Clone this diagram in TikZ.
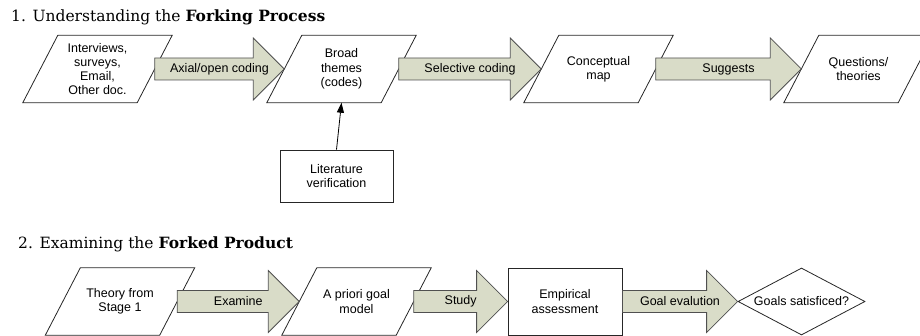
\documentclass[tikz,border=0pt]{standalone}
\usepackage{fontspec}
\setmainfont{Liberation Sans}
\newfontfamily\headfont{DejaVu Serif}
\usetikzlibrary{calc,shapes.geometric,arrows.meta}

\definecolor{shaftfill}{HTML}{D9DCC8}
\definecolor{shaftline}{HTML}{505050}

\tikzset{
  frame/.style={draw=black!85,line width=0.8pt},
  box/.style={align=center,inner sep=0pt,font=\fontsize{12.5}{14.3}\selectfont},
  para/.style={box,minimum width=114pt,minimum height=67pt,
    append after command={\pgfextra{\draw[frame]
      ($(\tikzlastnode.south west)+(-17.5pt,0)$) -- ($(\tikzlastnode.north west)+(17.5pt,0)$)
      -- ($(\tikzlastnode.north east)+(17.5pt,0)$) -- ($(\tikzlastnode.south east)+(-17.5pt,0)$)
      -- cycle;}}},
  rect/.style={box,frame,fill=white,rectangle,minimum width=114pt,minimum height=67pt},
  shaft/.style={draw=shaftline,line width=0.8pt,fill=shaftfill},
  head/.style={anchor=base west,inner sep=0pt,font=\headfont\fontsize{15.5}{18}\selectfont}
}

% #1 label name, #2 from, #3 to, #4 text
\newcommand{\blockarrow}[4]{%
  \draw[shaft] let \p1=(#2), \p2=(#3) in
    (\x1,\y1+11pt) -- (\x2-31pt,\y1+11pt) -- (\x2-31pt,\y1+31pt) -- (\x2,\y1)
    -- (\x2-31pt,\y1-31pt) -- (\x2-31pt,\y1-11pt) -- (\x1,\y1-11pt) -- cycle;
  \path (#2) -- (#3) node[midway,box] (#1) {#4};}

\begin{document}
\begin{tikzpicture}[x=1pt,y=-1pt]
  \useasboundingbox (0,0) rectangle (920,336);

  \node[head] (title1) at (11,22) {1. Understanding the \textbf{Forking Process}};
  \node[head] (title2) at (18,249) {2. Examining the \textbf{Forked Product}};

  \node[para] (raw) at (97.5,69) {Interviews,\\surveys,\\Email,\\Other doc.};
  \node[para] (themes) at (341.5,69) {Broad\\themes\\(codes)};
  \node[para] (concept) at (598.5,69) {Conceptual\\map};
  \node[para] (questions) at (858.5,69) {Questions/\\theories};
  \node[rect,minimum width=113pt,minimum height=52pt] (lit) at (336.5,176) {Literature\\verification};

  \blockarrow{axial}{raw.east}{themes.west}{Axial/open coding}
  \blockarrow{selective}{themes.east}{concept.west}{Selective coding}
  \blockarrow{suggests}{concept.east}{questions.west}{Suggests}
  \draw[line width=0.8pt,-{Triangle[length=10pt,width=7pt]}] (lit.north) -- (themes.south);

  \node[para] (theory) at (120,301.5) {Theory from\\Stage 1};
  \node[para] (apriori) at (356.5,301.5) {A priori goal\\model};
  \node[rect] (empirical) at (565,301.5) {Empirical\\assessment};
  \node[box,frame,diamond,minimum width=127pt,minimum height=67pt,
    label={[box]center:Goals satisficed?}] (goals) at (801.5,301.5) {};

  \blockarrow{examine}{theory.east}{apriori.west}{Examine}
  \blockarrow{study}{apriori.east}{empirical.west}{Study}
  \blockarrow{evaluation}{empirical.east}{goals.west}{Goal evalution}
\end{tikzpicture}
\end{document}
